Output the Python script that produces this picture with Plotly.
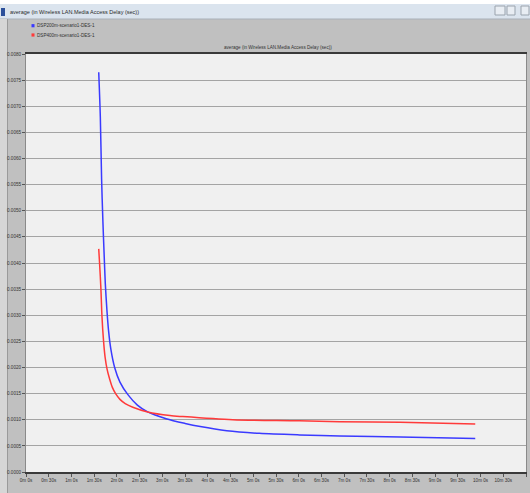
import plotly.graph_objects as go

# ---------------- data ----------------
series_names = ["DSP200m-scenario1-DES-1", "DSP400m-scenario1-DES-1"]
series_colors = ["#3a3aff", "#ff3a3a"]

blue_t = [96, 98.1, 99.8, 101.5, 103.3, 104.7, 106.8, 109, 112, 117, 124, 134.5, 147,
          160.6, 185, 210, 230, 265, 308, 361, 414, 494, 593]
blue_v = [0.00765, 0.0068, 0.0056, 0.0048, 0.0041, 0.0036, 0.0031, 0.0027, 0.00235,
          0.00200, 0.00172, 0.00148, 0.00128, 0.00115, 0.00102, 0.00093, 0.00087,
          0.00079, 0.00074, 0.00071, 0.00069, 0.00067, 0.00064]

red_t = [96, 97.1, 98.9, 100.2, 102.4, 104.4, 107, 110.4, 114, 118.3, 124, 131, 141,
         160.6, 190, 207, 273, 361, 414, 494, 593]
red_v = [0.00427, 0.0040, 0.0035, 0.0030, 0.0025, 0.0022, 0.00197, 0.00178, 0.00162,
         0.0015, 0.00139, 0.00131, 0.00124, 0.00115, 0.00108, 0.00106, 0.00100,
         0.00098, 0.00096, 0.00095, 0.00092]

y_ticks = [i * 0.0005 for i in range(17)]
x_ticks = [i * 30 for i in range(23)]
x_tick_labels = [f"{t // 60}m {t % 60}s" for t in x_ticks]

window_title = "average (in Wireless LAN.Media Access Delay (sec))"
chart_title = "average (in Wireless LAN.Media Access Delay (sec))"

# ---------------- layout geometry ----------------
W, H = 530, 493
L, R, T, B = 26, 4, 54, 21
PW, PH = W - L - R, H - T - B


def px(x):
    return (x - L) / PW


def py(y):
    return (H - B - y) / PH


FONT = "Liberation Sans, Arial, sans-serif"

fig = go.Figure()
fig.add_trace(go.Scatter(x=blue_t, y=blue_v, mode="lines", name=series_names[0],
                         line=dict(color=series_colors[0], width=1.5, shape="spline", smoothing=0.8)))
fig.add_trace(go.Scatter(x=red_t, y=red_v, mode="lines", name=series_names[1],
                         line=dict(color=series_colors[1], width=1.5, shape="spline", smoothing=0.8)))

shapes = []
# window frame: title bar
shapes.append(dict(type="rect", xref="paper", yref="paper", x0=px(0), x1=px(W), y0=py(4), y1=py(0),
                   fillcolor="#ffffff", line=dict(width=0), layer="below"))
shapes.append(dict(type="rect", xref="paper", yref="paper", x0=px(0), x1=px(W), y0=py(19), y1=py(4),
                   fillcolor="#dbe4ee", line=dict(width=0), layer="below"))
shapes.append(dict(type="line", xref="paper", yref="paper", x0=px(0), x1=px(W), y0=py(19), y1=py(19),
                   line=dict(color="#a9b0b8", width=1), layer="below"))
# left frame strip
shapes.append(dict(type="rect", xref="paper", yref="paper", x0=px(0), x1=px(7), y0=py(H), y1=py(19),
                   fillcolor="#d6d6d6", line=dict(width=0), layer="below"))
shapes.append(dict(type="line", xref="paper", yref="paper", x0=px(7.5), x1=px(7.5), y0=py(H), y1=py(19),
                   line=dict(color="#9a9a9a", width=1), layer="below"))
# window icon
shapes.append(dict(type="rect", xref="paper", yref="paper", x0=px(1), x1=px(5), y0=py(16), y1=py(8),
                   fillcolor="#2b4f9a", line=dict(width=0)))
# window buttons
for bx0, bx1 in [(495, 505), (507, 515), (521, 529)]:
    shapes.append(dict(type="rect", xref="paper", yref="paper", x0=px(bx0), x1=px(bx1), y0=py(15), y1=py(6),
                       fillcolor="#e8edf3", line=dict(color="#9aa3ad", width=1)))
# legend squares
for i, (yc, col) in enumerate([(25.7, series_colors[0]), (35, series_colors[1])]):
    shapes.append(dict(type="rect", xref="paper", yref="paper", x0=px(31.5), x1=px(34.5),
                       y0=py(yc + 1.6), y1=py(yc - 1.6), fillcolor=col, line=dict(width=0)))

annotations = [
    dict(text=window_title, xref="paper", yref="paper", x=px(8), y=py(12), xanchor="left", yanchor="middle",
         showarrow=False, font=dict(family=FONT, size=5.5, color="#2a2a2a")),
    dict(text=chart_title, xref="paper", yref="paper", x=px(278), y=py(47.5), xanchor="center", yanchor="middle",
         showarrow=False, font=dict(family=FONT, size=4.6, color="#333333")),
]
for name, yc in zip(series_names, [25.7, 35]):
    annotations.append(dict(text=name, xref="paper", yref="paper", x=px(35), y=py(yc), xanchor="left",
                            yanchor="middle", showarrow=False, font=dict(family=FONT, size=4.6, color="#333333")))

fig.update_layout(
    width=W, height=H,
    margin=dict(l=L, r=R, t=T, b=B, pad=0),
    paper_bgcolor="#c0c0c0",
    plot_bgcolor="#f0f0f0",
    showlegend=False,
    shapes=shapes,
    annotations=annotations,
    xaxis=dict(range=[0, 660], tickvals=x_ticks, ticktext=x_tick_labels, showgrid=False, zeroline=False,
               ticks="outside", ticklen=3, tickcolor="#555555", showline=True, linecolor="#3a3a3a",
               linewidth=1.5, mirror=True,
               tickfont=dict(family=FONT, size=4.6, color="#333333")),
    yaxis=dict(range=[0, 0.008], tickvals=y_ticks, tickformat=".4f", showgrid=True, gridcolor="#a4a4a4",
               gridwidth=1, zeroline=False, ticks="outside", ticklen=3, tickcolor="#555555",
               showline=True, linecolor="#8a8a8a", linewidth=1, mirror=True,
               tickfont=dict(family=FONT, size=4.6, color="#333333")),
)

fig.write_html("out.html", config={"displayModeBar": False},
               post_script="document.body.style.margin='0';document.body.style.overflow='hidden';")
